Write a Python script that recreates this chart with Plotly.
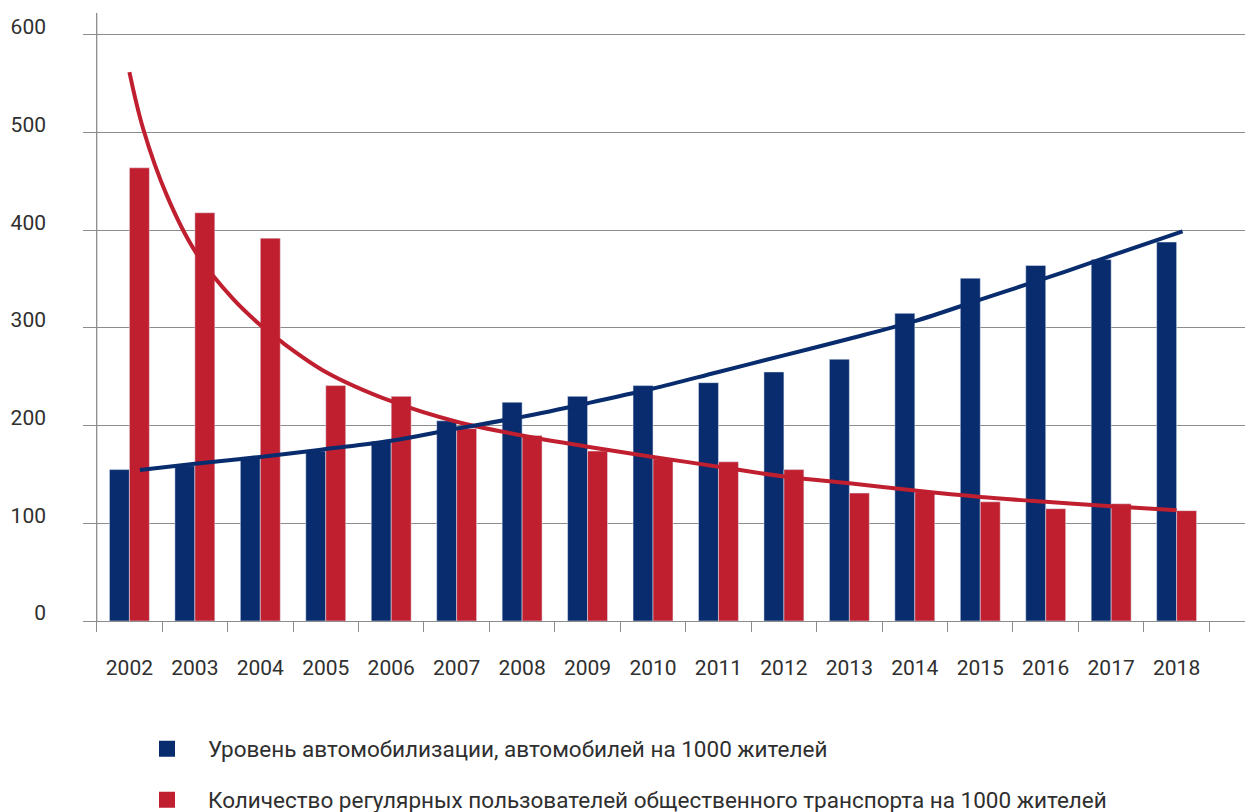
import plotly.graph_objects as go

years = ["2002", "2003", "2004", "2005", "2006", "2007", "2008", "2009", "2010",
         "2011", "2012", "2013", "2014", "2015", "2016", "2017", "2018"]
cars = [155, 159, 168, 174, 184, 205, 224, 230, 241, 244, 255, 268, 315, 351, 364, 370, 388]
transit = [464, 418, 392, 241, 230, 197, 190, 174, 166, 163, 155, 131, 132, 122, 115, 120, 113]

# trend lines (x = category index)
cars_trend_x = [0.16, 1, 2, 3, 4, 5, 6, 7, 8, 9, 10, 11, 12, 13, 14, 15, 16.09]
cars_trend_y = [154.5, 161, 168, 176, 184.5, 197, 209, 223, 238, 255, 272, 289, 307, 329, 351, 374, 399]
transit_trend_x = [0, 0.21, 0.57, 1, 1.58, 2, 2.3, 3, 4, 5, 6, 7, 8, 9, 10, 11, 12, 13, 14, 15, 16]
transit_trend_y = [562, 504, 436, 379, 330, 303, 287, 255, 225, 204, 190, 178.5, 168, 158, 148, 141,
                   133.5, 127, 122, 117.5, 113.5]

y_ticks = [0, 100, 200, 300, 400, 500, 600]
legend_names = ["Уровень автомобилизации, автомобилей на 1000 жителей",
                "Количество регулярных пользователей общественного транспорта на 1000 жителей"]

BLUE = "#082c6d"
RED = "#c01f2f"
GRID = "#8c8c8c"
TXT = "#2f2f2f"
FONT = "Roboto"

# the page places the figure 8px from the top-left corner
OFF = 8
W, H = 1253 - OFF, 812 - OFF
L, R, T, B = 83 - OFF, 0, 13 - OFF, 191
X_RANGE = [-0.709, 17.167]
Y_RANGE = [0, 622.5]

fig = go.Figure()
fig.add_trace(go.Bar(x=years, y=cars, marker_color=BLUE, showlegend=False))
fig.add_trace(go.Bar(x=years, y=transit, marker_color=RED, showlegend=False))
fig.add_trace(go.Scatter(x=transit_trend_x, y=transit_trend_y, xaxis="x2", mode="lines",
                         line=dict(color=RED, width=4, shape="spline", smoothing=1.0),
                         showlegend=False))
fig.add_trace(go.Scatter(x=cars_trend_x, y=cars_trend_y, xaxis="x2", mode="lines",
                         line=dict(color=BLUE, width=4, shape="spline", smoothing=1.0),
                         showlegend=False))

# legend entries
fig.add_trace(go.Scatter(x=[None], y=[None], mode="markers", name=legend_names[0],
                         marker=dict(symbol="square", size=16, color=BLUE), legend="legend"))
fig.add_trace(go.Scatter(x=[None], y=[None], mode="markers", name=legend_names[1],
                         marker=dict(symbol="square", size=16, color=RED), legend="legend2"))

pw = W - L - R
ph = H - T - B


def px_to_paper_x(px):
    # px in screen pixels
    return (px - OFF - L) / pw


def py_to_paper_y(py):
    return (H - B - (py - OFF)) / ph


legend_common = dict(xanchor="left", yanchor="middle", itemwidth=72, itemsizing="trace",
                     font=dict(family=FONT, size=22.5, color=TXT), bgcolor="rgba(0,0,0,0)")

fig.update_layout(
    width=W, height=H,
    margin=dict(l=L, r=R, t=T, b=B, autoexpand=False),
    plot_bgcolor="white", paper_bgcolor="white",
    barmode="group", bargap=0.39, bargroupgap=0,
    font=dict(family=FONT, size=21, color=TXT),
    xaxis=dict(type="category", range=X_RANGE, tickson="boundaries", ticks="outside",
               ticklen=10, tickwidth=1.3, tickcolor=GRID, showgrid=False, automargin=False,
               showline=True, linecolor=GRID, linewidth=1.3,
               tickfont=dict(family=FONT, size=21, color=TXT), ticklabelstandoff=28),
    xaxis2=dict(overlaying="x", range=X_RANGE, visible=False),
    yaxis=dict(range=Y_RANGE, tickvals=y_ticks, showgrid=True, gridcolor=GRID, gridwidth=1.3,
               zeroline=False, showline=False, ticks="", automargin=False,
               tickfont=dict(family=FONT, size=21, color=TXT), ticklabelstandoff=36,
               ticklabelshift=-8),
    legend=dict(x=px_to_paper_x(126), y=py_to_paper_y(749), **legend_common),
    legend2=dict(x=px_to_paper_x(126), y=py_to_paper_y(800), **legend_common),
    shapes=[dict(type="line", xref="x2", yref="paper", x0=-0.5, x1=-0.5, y0=0, y1=1,
                 line=dict(color=GRID, width=1.3))],
)

fig.write_html("out.html")
